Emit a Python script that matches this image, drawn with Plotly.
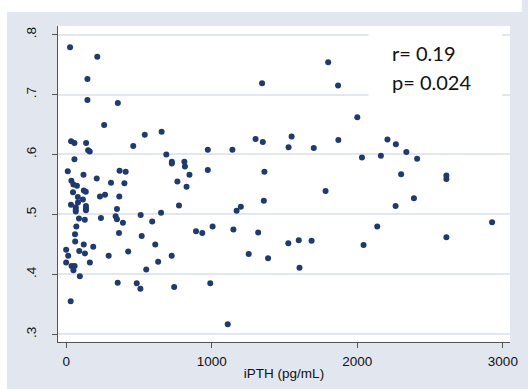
import plotly.graph_objects as go

# iPTH (pg/mL) values
ipth = [
    27, 214, 146, 146, 355, 261, 540, 656, 34, 57,
    137, 151, 162, 461, 57, 688, 726, 726, 812, 816,
    847, 11, 119, 367, 409, 210, 308, 400, 764, 827,
    36, 50, 74, 121, 135, 47, 232, 267, 365, 80,
    115, 81, 33, 66, 66, 66, 136, 136, 136, 775,
    349, 512, 652, 88, 239, 128, 340, 349, 390, 591,
    70, 892, 935, 61, 363, 519, 62, 121, 186, 612,
    0, 90, 129, 14, 292, 426, 725, 0, 163, 632,
    37, 58, 50, 94, 550, 354, 485, 510, 742, 31,
    1346, 1800, 1868, 1301, 1351, 1549, 1870, 973, 1142, 1528,
    1701, 973, 1362, 1782, 1358, 1171, 1200, 1006, 1149, 1319,
    1254, 1387, 1526, 1598, 1686, 1603, 990, 1110,
    2000, 2207, 2265, 2337, 2411, 2032, 2162, 2301, 2612, 2612,
    2389, 2263, 2137, 2926, 2043, 2612,
]
# outcome values (y)
yvals = [
    0.779, 0.763, 0.726, 0.691, 0.686, 0.649, 0.633, 0.638, 0.622, 0.619,
    0.619, 0.607, 0.605, 0.614, 0.592, 0.600, 0.588, 0.585, 0.588, 0.580,
    0.566, 0.572, 0.566, 0.573, 0.571, 0.560, 0.553, 0.552, 0.555, 0.546,
    0.556, 0.550, 0.548, 0.540, 0.538, 0.537, 0.530, 0.533, 0.530, 0.529,
    0.525, 0.520, 0.516, 0.512, 0.508, 0.505, 0.514, 0.510, 0.507, 0.515,
    0.509, 0.499, 0.503, 0.493, 0.494, 0.491, 0.497, 0.492, 0.486, 0.488,
    0.480, 0.472, 0.469, 0.467, 0.469, 0.464, 0.455, 0.450, 0.446, 0.450,
    0.441, 0.439, 0.435, 0.431, 0.431, 0.438, 0.431, 0.420, 0.420, 0.421,
    0.414, 0.414, 0.407, 0.397, 0.408, 0.386, 0.385, 0.376, 0.379, 0.355,
    0.719, 0.754, 0.715, 0.626, 0.621, 0.630, 0.624, 0.608, 0.608, 0.612,
    0.611, 0.574, 0.571, 0.539, 0.523, 0.506, 0.513, 0.480, 0.475, 0.470,
    0.434, 0.427, 0.452, 0.457, 0.456, 0.411, 0.385, 0.317,
    0.662, 0.625, 0.617, 0.604, 0.593, 0.595, 0.598, 0.567, 0.565, 0.559,
    0.527, 0.514, 0.480, 0.487, 0.449, 0.462,
]

x_tickvals = [0, 1000, 2000, 3000]
x_ticktext = ["0", "1000", "2000", "3000"]
y_tickvals = [0.3, 0.4, 0.5, 0.6, 0.7, 0.8]
y_ticktext = [".3", ".4", ".5", ".6", ".7", ".8"]
stat_lines = ["r= 0.19", "p= 0.024"]
x_title = "iPTH (pg/mL)"

W, H = 528, 389
ML, MR, MT, MB = 58, 10, 26, 46
PW, PH = W - ML - MR, H - MT - MB


def px_x(p):
    return (p - ML) / PW


def px_y(p):
    return 1 - (p - MT) / PH


fig = go.Figure()
fig.add_trace(go.Scatter(
    x=ipth, y=yvals, mode="markers",
    marker=dict(color="#1f3a6d", size=6, line=dict(width=0)),
    showlegend=False, hoverinfo="x+y",
))

axis_color = "#555555"
tick_font = dict(family="Liberation Sans, Arial, sans-serif", size=13.5, color="#111111")

fig.update_layout(
    width=W, height=H,
    margin=dict(l=ML, r=MR, t=MT, b=MB, pad=0),
    paper_bgcolor="#e1e6ef",
    plot_bgcolor="#ffffff",
    xaxis=dict(
        range=[-56, 3049], tickvals=x_tickvals, ticktext=x_ticktext,
        showgrid=False, zeroline=False,
        showline=True, linecolor=axis_color, linewidth=1.3,
        ticks="outside", ticklen=5, tickwidth=1.2, tickcolor=axis_color,
        tickfont=tick_font, ticklabelstandoff=2,
        title=dict(text=x_title, font=tick_font, standoff=0),
    ),
    yaxis=dict(
        range=[0.2872, 0.8143], tickvals=y_tickvals, ticktext=y_ticktext,
        showgrid=True, gridcolor="#e1e6ef", gridwidth=1.5, zeroline=False,
        showline=True, linecolor=axis_color, linewidth=1.2,
        ticks="outside", ticklen=5, tickwidth=1.2, tickcolor=axis_color,
        tickfont=tick_font, tickangle=-90, ticklabelstandoff=11,
    ),
    shapes=[
        # white border strips (top and left) outside the gray panel
        dict(type="rect", xref="paper", yref="paper", layer="below",
             x0=px_x(0), x1=px_x(W + 2), y0=px_y(12), y1=px_y(-2),
             line=dict(width=0), fillcolor="#ffffff"),
        dict(type="rect", xref="paper", yref="paper", layer="below",
             x0=px_x(-2), x1=px_x(6), y0=px_y(H + 2), y1=px_y(-2),
             line=dict(width=0), fillcolor="#ffffff"),
        # white box behind the statistics text
        dict(type="rect", xref="paper", yref="paper", layer="above",
             x0=px_x(374), x1=px_x(510), y0=px_y(97.5), y1=px_y(26.5),
             line=dict(width=0), fillcolor="#ffffff"),
    ],
)

stat_font = dict(family="Lato, Open Sans, sans-serif", size=20, color="#111111")
for txt, yc in zip(stat_lines, [53, 82.5]):
    fig.add_annotation(
        text=txt, xref="paper", yref="paper", x=px_x(396), y=px_y(yc),
        xanchor="left", yanchor="middle", showarrow=False, font=stat_font,
    )

fig.write_html("out.html")
